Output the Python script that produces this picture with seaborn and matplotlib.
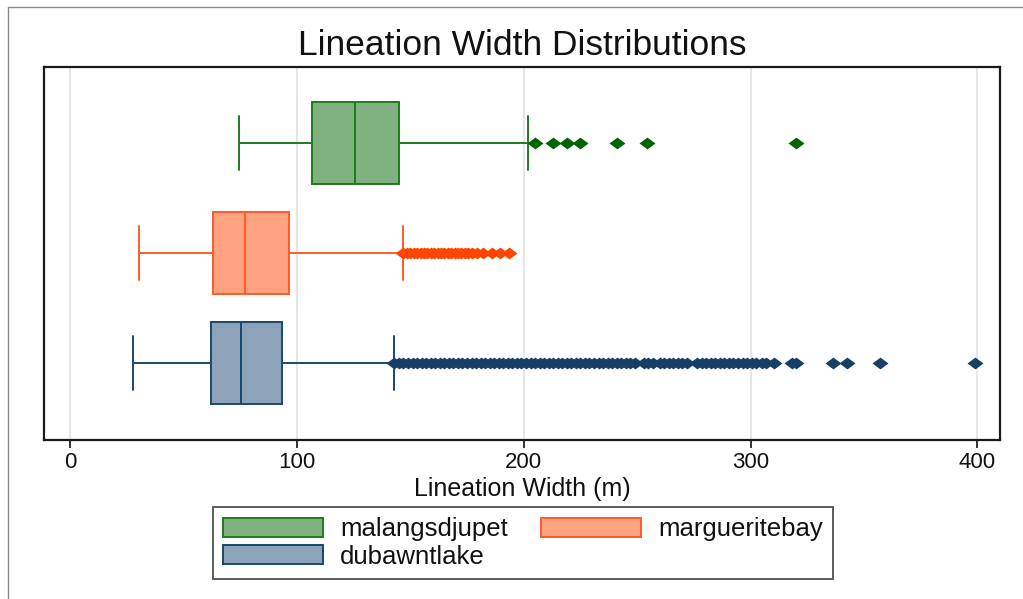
import pandas as pd
import seaborn as sns
import matplotlib.pyplot as plt
from matplotlib.patches import Patch
from matplotlib.lines import Line2D

# sites, top to bottom on the chart
sites = ['malangsdjupet', 'margueritebay', 'dubawntlake']
legend_order = ['malangsdjupet', 'dubawntlake', 'margueritebay']

# box statistics (m)
whisker_low = [74.5, 30.6, 27.9]
q1 = [106.6, 62.9, 62.0]
median = [125.7, 77.2, 75.4]
q3 = [145.1, 96.6, 93.5]
whisker_high = [201.7, 146.6, 142.9]

# outside values (m)
outliers_malangsdjupet = [205.1, 213.0, 219.2, 225.0, 241.2, 254.5, 320.2]
outliers_margueritebay = [147.0, 148.5, 150.0, 151.5, 153.0, 154.5, 156.0,
                          157.5, 159.0, 160.5, 162.0, 163.5, 165.0, 166.5,
                          168.0, 169.5, 171.0, 172.5, 174.0, 175.5, 177.0,
                          179.5, 182.0, 186.0, 189.6, 193.4]
outliers_dubawntlake = [143.0, 145.0, 147.0, 149.0, 151.0, 153.0, 155.0,
                        157.0, 159.0, 161.0, 163.0, 165.0, 167.0, 169.0,
                        171.0, 173.0, 175.0, 177.0, 179.0, 181.0, 183.0,
                        185.0, 187.0, 189.0, 191.0, 193.0, 195.0, 197.0,
                        199.0, 201.0, 203.0, 205.0, 207.0, 209.0, 211.0,
                        213.0, 215.0, 217.0, 219.0, 221.0, 223.0, 225.0,
                        227.0, 229.0, 231.0, 233.0, 235.0, 237.0, 239.0,
                        241.0, 243.0, 245.0, 247.0, 249.0, 253.0, 255.0,
                        257.0, 260.0, 262.0, 264.0, 266.0, 268.0, 270.0,
                        272.0, 276.5, 278.5, 280.5, 282.5, 284.5, 286.5,
                        288.5, 290.5, 292.5, 294.5, 296.5, 298.5, 300.5,
                        302.5, 305.0, 307.0, 310.5, 318.5, 320.2, 336.5,
                        342.7, 357.0, 398.8]
outliers = [outliers_malangsdjupet, outliers_margueritebay, outliers_dubawntlake]

face_colors = ['#80b280', '#ffa27f', '#8ca3b9']
line_colors = ['#1f7a1f', '#ff5a2a', '#1a476f']
flier_colors = ['#006400', '#ff4500', '#163f66']

# wide diamond, like the stata marker in the picture
diamond = [(-1.35, 0), (0, 1), (1.35, 0), (0, -1), (-1.35, 0)]

sns.set_style('white')
plt.rcParams['font.family'] = ['Liberation Sans', 'DejaVu Sans']

fig = plt.figure(figsize=(10.23, 5.99), dpi=100)
ax = fig.add_axes([44 / 1023, 1 - 440 / 599, 956 / 1023, 373 / 599])

for i, name in enumerate(sites):
    box_df = pd.DataFrame({
        'site': name,
        'width': [whisker_low[i], q1[i], median[i], q3[i], whisker_high[i]],
    })
    sns.boxplot(data=box_df, x='width', y='site', order=sites, orient='h',
                whis=(0, 100), width=0.74, color=face_colors[i],
                linecolor=line_colors[i], linewidth=1.4, saturation=1,
                capwidths=0.49, ax=ax)
    sns.stripplot(x=outliers[i], y=[name] * len(outliers[i]), order=sites,
                  orient='h', jitter=False, color=flier_colors[i],
                  marker=diamond, size=11.5, linewidth=0, ax=ax)

ax.set_xlim(-11.5, 410)
ax.set_ylim(2.70, -0.69)
ax.set_xticks([0, 100, 200, 300, 400])
ax.grid(axis='x', color='#e2e2e2', linewidth=1.2)
ax.grid(axis='y', visible=False)
ax.set_axisbelow(True)

for s in ax.spines.values():
    s.set_visible(True)
    s.set_color('#1a1a1a')
    s.set_linewidth(1.6)

ax.tick_params(axis='x', bottom=True, length=6, width=1.4, color='#333333',
               labelsize=16, labelcolor='#111111', pad=2.5)
ax.tick_params(axis='y', left=False, labelleft=False)

ax.set_title('Lineation Width Distributions', fontsize=25.5, pad=8.5,
             color='#111111')
ax.set_ylabel('')
ax.set_xlabel('Lineation Width (m)', fontsize=18, color='#111111')
ax.xaxis.set_label_coords(0.5, -0.1)

handles = [Patch(facecolor=face_colors[sites.index(n)],
                 edgecolor=line_colors[sites.index(n)], linewidth=1.4, label=n)
           for n in legend_order]
leg = fig.legend(handles=handles, loc='center',
                 bbox_to_anchor=(523 / 1023, 1 - 543 / 599), ncol=2,
                 fontsize=18.5, frameon=True, fancybox=False, edgecolor='#333333',
                 handlelength=3.9, handleheight=0.8, handletextpad=0.65,
                 columnspacing=1.3, labelspacing=0.12, borderpad=0.4)
leg.get_frame().set_linewidth(1.4)
for t in leg.get_texts():
    t.set_color('#111111')

# outer border of the screenshot (left and top)
fig.add_artist(Line2D([8 / 1023, 1], [1 - 7 / 599, 1 - 7 / 599],
                      transform=fig.transFigure, color='#8a8a8a', lw=1))
fig.add_artist(Line2D([8 / 1023, 8 / 1023], [0, 1 - 7 / 599],
                      transform=fig.transFigure, color='#8a8a8a', lw=1))

fig.savefig('out.png', dpi=100)
